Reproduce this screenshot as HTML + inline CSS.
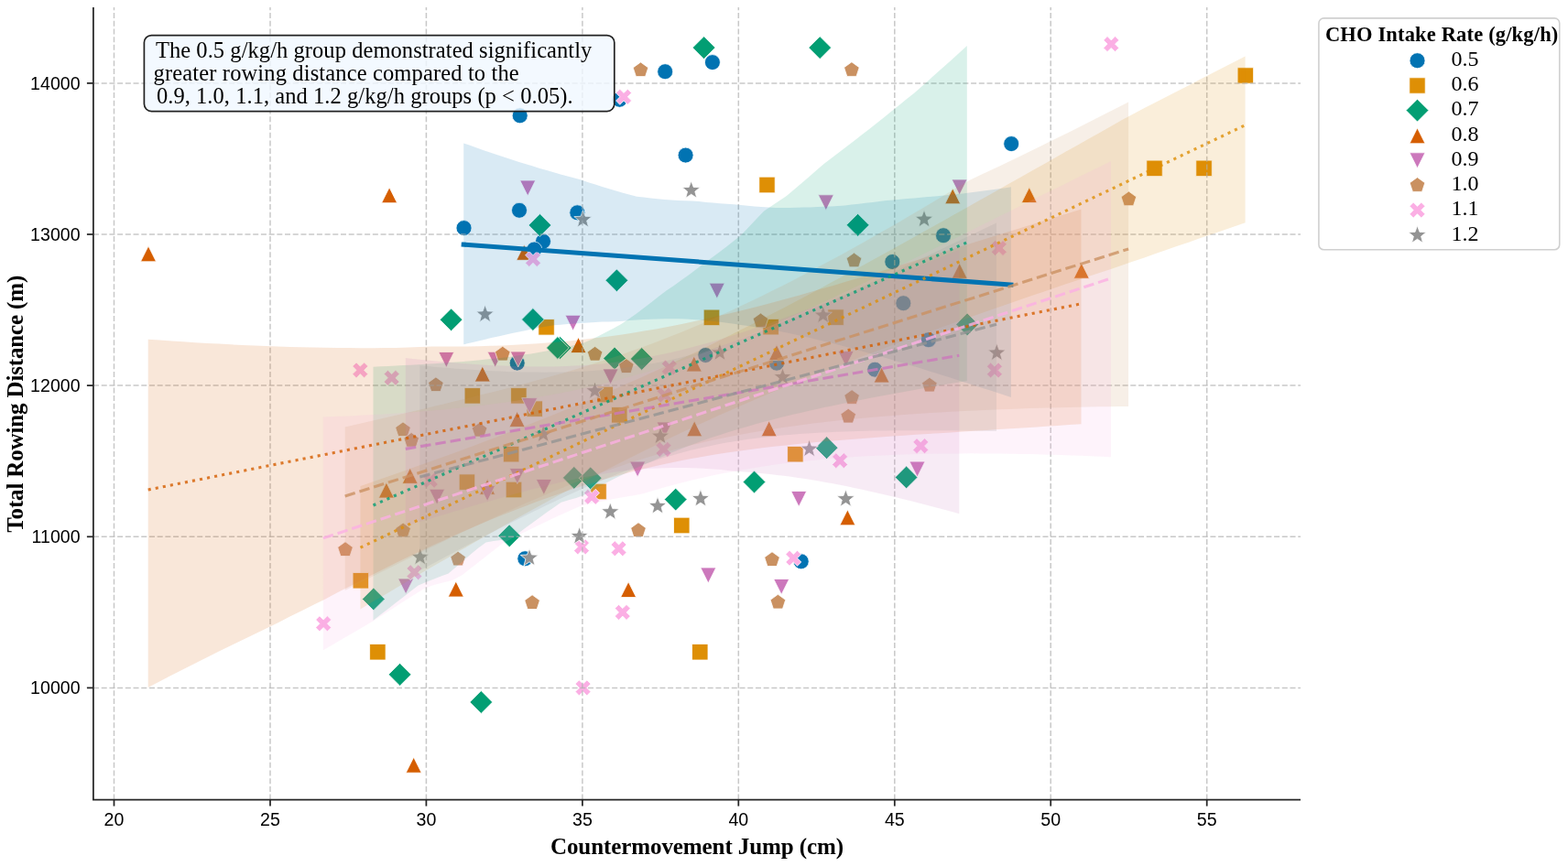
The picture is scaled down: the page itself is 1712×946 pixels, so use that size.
<!DOCTYPE html>
<html><head><meta charset="utf-8"><title>CHO Intake Rate vs Rowing Distance</title>
<style>html,body{margin:0;padding:0;background:#fff;} svg{display:block;}</style></head>
<body>
<svg width="1712" height="946" viewBox="0 0 1712 946">
<rect width="1712" height="946" fill="#fff"/>
<defs><clipPath id="ax"><rect x="102" y="8" width="1318" height="866"/></clipPath></defs>
<g clip-path="url(#ax)">
<circle cx="567.7" cy="126.3" r="8.5" fill="#0173B2" stroke="#fff" stroke-width="0.8"/>
<circle cx="726.2" cy="78.2" r="8.5" fill="#0173B2" stroke="#fff" stroke-width="0.8"/>
<circle cx="777.9" cy="68.1" r="8.5" fill="#0173B2" stroke="#fff" stroke-width="0.8"/>
<circle cx="748.6" cy="169.6" r="8.5" fill="#0173B2" stroke="#fff" stroke-width="0.8"/>
<circle cx="676.5" cy="108.8" r="8.5" fill="#0173B2" stroke="#fff" stroke-width="0.8"/>
<circle cx="1104.2" cy="157.1" r="8.5" fill="#0173B2" stroke="#fff" stroke-width="0.8"/>
<circle cx="506.5" cy="249.1" r="8.5" fill="#0173B2" stroke="#fff" stroke-width="0.8"/>
<circle cx="567" cy="229.8" r="8.5" fill="#0173B2" stroke="#fff" stroke-width="0.8"/>
<circle cx="630.3" cy="232.3" r="8.5" fill="#0173B2" stroke="#fff" stroke-width="0.8"/>
<circle cx="593" cy="263.7" r="8.5" fill="#0173B2" stroke="#fff" stroke-width="0.8"/>
<circle cx="583.3" cy="272.5" r="8.5" fill="#0173B2" stroke="#fff" stroke-width="0.8"/>
<circle cx="1030" cy="257.2" r="8.5" fill="#0173B2" stroke="#fff" stroke-width="0.8"/>
<circle cx="974.3" cy="286" r="8.5" fill="#0173B2" stroke="#fff" stroke-width="0.8"/>
<circle cx="986.3" cy="331.2" r="8.5" fill="#0173B2" stroke="#fff" stroke-width="0.8"/>
<circle cx="1013.8" cy="371.2" r="8.5" fill="#0173B2" stroke="#fff" stroke-width="0.8"/>
<circle cx="955.2" cy="403.7" r="8.5" fill="#0173B2" stroke="#fff" stroke-width="0.8"/>
<circle cx="770.3" cy="388" r="8.5" fill="#0173B2" stroke="#fff" stroke-width="0.8"/>
<circle cx="848" cy="396.7" r="8.5" fill="#0173B2" stroke="#fff" stroke-width="0.8"/>
<circle cx="564.7" cy="396.6" r="8.5" fill="#0173B2" stroke="#fff" stroke-width="0.8"/>
<circle cx="573.3" cy="610.2" r="8.5" fill="#0173B2" stroke="#fff" stroke-width="0.8"/>
<circle cx="874.7" cy="613.3" r="8.5" fill="#0173B2" stroke="#fff" stroke-width="0.8"/>
<polygon points="828.8,210.8 846.2,210.8 846.2,193.2 828.8,193.2" fill="#DE8F05" stroke="#fff" stroke-width="0.8" stroke-linejoin="miter"/>
<polygon points="1351.1,91.2 1368.6,91.2 1368.6,73.8 1351.1,73.8" fill="#DE8F05" stroke="#fff" stroke-width="0.8" stroke-linejoin="miter"/>
<polygon points="1251.8,192.6 1269.2,192.6 1269.2,175.1 1251.8,175.1" fill="#DE8F05" stroke="#fff" stroke-width="0.8" stroke-linejoin="miter"/>
<polygon points="1305.8,192.6 1323.3,192.6 1323.3,175.1 1305.8,175.1" fill="#DE8F05" stroke="#fff" stroke-width="0.8" stroke-linejoin="miter"/>
<polygon points="587.8,366.1 605.3,366.1 605.3,348.6 587.8,348.6" fill="#DE8F05" stroke="#fff" stroke-width="0.8" stroke-linejoin="miter"/>
<polygon points="768.2,355.6 785.8,355.6 785.8,338.1 768.2,338.1" fill="#DE8F05" stroke="#fff" stroke-width="0.8" stroke-linejoin="miter"/>
<polygon points="832.9,365.9 850.4,365.9 850.4,348.4 832.9,348.4" fill="#DE8F05" stroke="#fff" stroke-width="0.8" stroke-linejoin="miter"/>
<polygon points="903.8,355.4 921.3,355.4 921.3,337.9 903.8,337.9" fill="#DE8F05" stroke="#fff" stroke-width="0.8" stroke-linejoin="miter"/>
<polygon points="507.1,441.1 524.6,441.1 524.6,423.6 507.1,423.6" fill="#DE8F05" stroke="#fff" stroke-width="0.8" stroke-linejoin="miter"/>
<polygon points="557.6,441.1 575.1,441.1 575.1,423.6 557.6,423.6" fill="#DE8F05" stroke="#fff" stroke-width="0.8" stroke-linejoin="miter"/>
<polygon points="575,455.4 592.5,455.4 592.5,437.9 575,437.9" fill="#DE8F05" stroke="#fff" stroke-width="0.8" stroke-linejoin="miter"/>
<polygon points="652,439.8 669.5,439.8 669.5,422.2 652,422.2" fill="#DE8F05" stroke="#fff" stroke-width="0.8" stroke-linejoin="miter"/>
<polygon points="667.5,462.1 685,462.1 685,444.6 667.5,444.6" fill="#DE8F05" stroke="#fff" stroke-width="0.8" stroke-linejoin="miter"/>
<polygon points="549.4,504.9 566.9,504.9 566.9,487.4 549.4,487.4" fill="#DE8F05" stroke="#fff" stroke-width="0.8" stroke-linejoin="miter"/>
<polygon points="501.2,535.4 518.7,535.4 518.7,517.9 501.2,517.9" fill="#DE8F05" stroke="#fff" stroke-width="0.8" stroke-linejoin="miter"/>
<polygon points="552.2,543.8 569.8,543.8 569.8,526.2 552.2,526.2" fill="#DE8F05" stroke="#fff" stroke-width="0.8" stroke-linejoin="miter"/>
<polygon points="644.8,545.8 662.3,545.8 662.3,528.2 644.8,528.2" fill="#DE8F05" stroke="#fff" stroke-width="0.8" stroke-linejoin="miter"/>
<polygon points="859.6,504.9 877.1,504.9 877.1,487.4 859.6,487.4" fill="#DE8F05" stroke="#fff" stroke-width="0.8" stroke-linejoin="miter"/>
<polygon points="735.5,582.8 753,582.8 753,565.2 735.5,565.2" fill="#DE8F05" stroke="#fff" stroke-width="0.8" stroke-linejoin="miter"/>
<polygon points="385.1,643 402.6,643 402.6,625.5 385.1,625.5" fill="#DE8F05" stroke="#fff" stroke-width="0.8" stroke-linejoin="miter"/>
<polygon points="403.6,721 421.1,721 421.1,703.5 403.6,703.5" fill="#DE8F05" stroke="#fff" stroke-width="0.8" stroke-linejoin="miter"/>
<polygon points="755.5,721 773,721 773,703.5 755.5,703.5" fill="#DE8F05" stroke="#fff" stroke-width="0.8" stroke-linejoin="miter"/>
<polygon points="768.6,64.5 781,52.1 768.6,39.7 756.2,52.1" fill="#029E73" stroke="#fff" stroke-width="0.8" stroke-linejoin="miter"/>
<polygon points="895.2,64.5 907.6,52.1 895.2,39.7 882.8,52.1" fill="#029E73" stroke="#fff" stroke-width="0.8" stroke-linejoin="miter"/>
<polygon points="589.5,258.4 601.9,246 589.5,233.6 577.1,246" fill="#029E73" stroke="#fff" stroke-width="0.8" stroke-linejoin="miter"/>
<polygon points="673.4,318.7 685.8,306.3 673.4,293.9 661,306.3" fill="#029E73" stroke="#fff" stroke-width="0.8" stroke-linejoin="miter"/>
<polygon points="936.6,258.2 949,245.8 936.6,233.4 924.2,245.8" fill="#029E73" stroke="#fff" stroke-width="0.8" stroke-linejoin="miter"/>
<polygon points="492.6,361.7 505,349.3 492.6,336.9 480.2,349.3" fill="#029E73" stroke="#fff" stroke-width="0.8" stroke-linejoin="miter"/>
<polygon points="581.9,361.4 594.3,349 581.9,336.6 569.5,349" fill="#029E73" stroke="#fff" stroke-width="0.8" stroke-linejoin="miter"/>
<polygon points="611.6,392.4 624,380 611.6,367.6 599.2,380" fill="#029E73" stroke="#fff" stroke-width="0.8" stroke-linejoin="miter"/>
<polygon points="608.9,392.4 621.3,380 608.9,367.6 596.5,380" fill="#029E73" stroke="#fff" stroke-width="0.8" stroke-linejoin="miter"/>
<polygon points="671.1,403.9 683.5,391.5 671.1,379.1 658.7,391.5" fill="#029E73" stroke="#fff" stroke-width="0.8" stroke-linejoin="miter"/>
<polygon points="700.7,404.4 713.1,392 700.7,379.6 688.3,392" fill="#029E73" stroke="#fff" stroke-width="0.8" stroke-linejoin="miter"/>
<polygon points="1056.1,366.8 1068.5,354.4 1056.1,342 1043.7,354.4" fill="#029E73" stroke="#fff" stroke-width="0.8" stroke-linejoin="miter"/>
<polygon points="626.8,534.3 639.2,521.9 626.8,509.5 614.4,521.9" fill="#029E73" stroke="#fff" stroke-width="0.8" stroke-linejoin="miter"/>
<polygon points="644.7,534.7 657.1,522.3 644.7,509.9 632.3,522.3" fill="#029E73" stroke="#fff" stroke-width="0.8" stroke-linejoin="miter"/>
<polygon points="737.7,558 750.1,545.6 737.7,533.2 725.3,545.6" fill="#029E73" stroke="#fff" stroke-width="0.8" stroke-linejoin="miter"/>
<polygon points="556.2,597.7 568.6,585.3 556.2,572.9 543.8,585.3" fill="#029E73" stroke="#fff" stroke-width="0.8" stroke-linejoin="miter"/>
<polygon points="902.6,501.6 915,489.2 902.6,476.8 890.2,489.2" fill="#029E73" stroke="#fff" stroke-width="0.8" stroke-linejoin="miter"/>
<polygon points="989.6,533.8 1002,521.4 989.6,509 977.2,521.4" fill="#029E73" stroke="#fff" stroke-width="0.8" stroke-linejoin="miter"/>
<polygon points="823.5,538.9 835.9,526.5 823.5,514.1 811.1,526.5" fill="#029E73" stroke="#fff" stroke-width="0.8" stroke-linejoin="miter"/>
<polygon points="407.8,666.8 420.2,654.4 407.8,642 395.4,654.4" fill="#029E73" stroke="#fff" stroke-width="0.8" stroke-linejoin="miter"/>
<polygon points="436.6,749.2 449,736.8 436.6,724.4 424.2,736.8" fill="#029E73" stroke="#fff" stroke-width="0.8" stroke-linejoin="miter"/>
<polygon points="525.3,779.4 537.7,767 525.3,754.6 512.9,767" fill="#029E73" stroke="#fff" stroke-width="0.8" stroke-linejoin="miter"/>
<polygon points="425.1,204.7 416.6,221.7 433.6,221.7" fill="#D55E00" stroke="#fff" stroke-width="0.8" stroke-linejoin="miter"/>
<polygon points="162,268.8 153.5,285.8 170.5,285.8" fill="#D55E00" stroke="#fff" stroke-width="0.8" stroke-linejoin="miter"/>
<polygon points="1123.8,204.6 1115.3,221.6 1132.3,221.6" fill="#D55E00" stroke="#fff" stroke-width="0.8" stroke-linejoin="miter"/>
<polygon points="1040.2,205.8 1031.7,222.8 1048.7,222.8" fill="#D55E00" stroke="#fff" stroke-width="0.8" stroke-linejoin="miter"/>
<polygon points="572.3,267.3 563.8,284.3 580.8,284.3" fill="#D55E00" stroke="#fff" stroke-width="0.8" stroke-linejoin="miter"/>
<polygon points="631.5,368.5 623,385.5 640,385.5" fill="#D55E00" stroke="#fff" stroke-width="0.8" stroke-linejoin="miter"/>
<polygon points="526.8,400 518.3,417 535.3,417" fill="#D55E00" stroke="#fff" stroke-width="0.8" stroke-linejoin="miter"/>
<polygon points="564.6,449.4 556.1,466.4 573.1,466.4" fill="#D55E00" stroke="#fff" stroke-width="0.8" stroke-linejoin="miter"/>
<polygon points="757.8,389 749.3,406 766.3,406" fill="#D55E00" stroke="#fff" stroke-width="0.8" stroke-linejoin="miter"/>
<polygon points="758.2,459.8 749.7,476.8 766.7,476.8" fill="#D55E00" stroke="#fff" stroke-width="0.8" stroke-linejoin="miter"/>
<polygon points="839.7,459.7 831.2,476.7 848.2,476.7" fill="#D55E00" stroke="#fff" stroke-width="0.8" stroke-linejoin="miter"/>
<polygon points="848,376.6 839.5,393.6 856.5,393.6" fill="#D55E00" stroke="#fff" stroke-width="0.8" stroke-linejoin="miter"/>
<polygon points="962.6,401 954.1,418 971.1,418" fill="#D55E00" stroke="#fff" stroke-width="0.8" stroke-linejoin="miter"/>
<polygon points="1047.7,287.3 1039.2,304.3 1056.2,304.3" fill="#D55E00" stroke="#fff" stroke-width="0.8" stroke-linejoin="miter"/>
<polygon points="1180.8,287.2 1172.3,304.2 1189.3,304.2" fill="#D55E00" stroke="#fff" stroke-width="0.8" stroke-linejoin="miter"/>
<polygon points="421.9,527 413.4,544 430.4,544" fill="#D55E00" stroke="#fff" stroke-width="0.8" stroke-linejoin="miter"/>
<polygon points="447.7,511.3 439.2,528.3 456.2,528.3" fill="#D55E00" stroke="#fff" stroke-width="0.8" stroke-linejoin="miter"/>
<polygon points="532.1,523.3 523.6,540.3 540.6,540.3" fill="#D55E00" stroke="#fff" stroke-width="0.8" stroke-linejoin="miter"/>
<polygon points="925.4,556.8 916.9,573.8 933.9,573.8" fill="#D55E00" stroke="#fff" stroke-width="0.8" stroke-linejoin="miter"/>
<polygon points="497.8,635 489.3,652 506.3,652" fill="#D55E00" stroke="#fff" stroke-width="0.8" stroke-linejoin="miter"/>
<polygon points="686.1,635.5 677.6,652.5 694.6,652.5" fill="#D55E00" stroke="#fff" stroke-width="0.8" stroke-linejoin="miter"/>
<polygon points="451.7,827.2 443.2,844.2 460.2,844.2" fill="#D55E00" stroke="#fff" stroke-width="0.8" stroke-linejoin="miter"/>
<polygon points="576.2,214 584.7,197 567.7,197" fill="#CC78BC" stroke="#fff" stroke-width="0.8" stroke-linejoin="miter"/>
<polygon points="901.8,229.8 910.3,212.8 893.3,212.8" fill="#CC78BC" stroke="#fff" stroke-width="0.8" stroke-linejoin="miter"/>
<polygon points="1047.6,213 1056.1,196 1039.1,196" fill="#CC78BC" stroke="#fff" stroke-width="0.8" stroke-linejoin="miter"/>
<polygon points="782.8,326.2 791.3,309.2 774.3,309.2" fill="#CC78BC" stroke="#fff" stroke-width="0.8" stroke-linejoin="miter"/>
<polygon points="625.6,361.3 634.1,344.3 617.1,344.3" fill="#CC78BC" stroke="#fff" stroke-width="0.8" stroke-linejoin="miter"/>
<polygon points="487.3,401.5 495.8,384.5 478.8,384.5" fill="#CC78BC" stroke="#fff" stroke-width="0.8" stroke-linejoin="miter"/>
<polygon points="540.7,401.3 549.2,384.3 532.2,384.3" fill="#CC78BC" stroke="#fff" stroke-width="0.8" stroke-linejoin="miter"/>
<polygon points="565.7,401 574.2,384 557.2,384" fill="#CC78BC" stroke="#fff" stroke-width="0.8" stroke-linejoin="miter"/>
<polygon points="666.6,420 675.1,403 658.1,403" fill="#CC78BC" stroke="#fff" stroke-width="0.8" stroke-linejoin="miter"/>
<polygon points="923.6,400.6 932.1,383.6 915.1,383.6" fill="#CC78BC" stroke="#fff" stroke-width="0.8" stroke-linejoin="miter"/>
<polygon points="578.2,451.7 586.7,434.7 569.7,434.7" fill="#CC78BC" stroke="#fff" stroke-width="0.8" stroke-linejoin="miter"/>
<polygon points="564.8,528.5 573.3,511.5 556.3,511.5" fill="#CC78BC" stroke="#fff" stroke-width="0.8" stroke-linejoin="miter"/>
<polygon points="593.8,540.5 602.3,523.5 585.3,523.5" fill="#CC78BC" stroke="#fff" stroke-width="0.8" stroke-linejoin="miter"/>
<polygon points="477.1,551.3 485.6,534.3 468.6,534.3" fill="#CC78BC" stroke="#fff" stroke-width="0.8" stroke-linejoin="miter"/>
<polygon points="532.1,547.5 540.6,530.5 523.6,530.5" fill="#CC78BC" stroke="#fff" stroke-width="0.8" stroke-linejoin="miter"/>
<polygon points="696.1,521.1 704.6,504.1 687.6,504.1" fill="#CC78BC" stroke="#fff" stroke-width="0.8" stroke-linejoin="miter"/>
<polygon points="725.6,478 734.1,461 717.1,461" fill="#CC78BC" stroke="#fff" stroke-width="0.8" stroke-linejoin="miter"/>
<polygon points="1001.5,521.1 1010,504.1 993,504.1" fill="#CC78BC" stroke="#fff" stroke-width="0.8" stroke-linejoin="miter"/>
<polygon points="872.2,553.5 880.7,536.5 863.7,536.5" fill="#CC78BC" stroke="#fff" stroke-width="0.8" stroke-linejoin="miter"/>
<polygon points="773.3,637 781.8,620 764.8,620" fill="#CC78BC" stroke="#fff" stroke-width="0.8" stroke-linejoin="miter"/>
<polygon points="853.2,649.5 861.7,632.5 844.7,632.5" fill="#CC78BC" stroke="#fff" stroke-width="0.8" stroke-linejoin="miter"/>
<polygon points="443.1,649 451.6,632 434.6,632" fill="#CC78BC" stroke="#fff" stroke-width="0.8" stroke-linejoin="miter"/>
<polygon points="699.5,67.9 691.2,73.9 694.4,83.6 704.6,83.6 707.8,73.9" fill="#CA9161" stroke="#fff" stroke-width="0.8" stroke-linejoin="miter"/>
<polygon points="929.9,67.7 921.6,73.7 924.8,83.4 935,83.4 938.2,73.7" fill="#CA9161" stroke="#fff" stroke-width="0.8" stroke-linejoin="miter"/>
<polygon points="1232.4,209 1224.1,215 1227.3,224.7 1237.5,224.7 1240.7,215" fill="#CA9161" stroke="#fff" stroke-width="0.8" stroke-linejoin="miter"/>
<polygon points="932.5,276.1 924.2,282.1 927.4,291.8 937.6,291.8 940.8,282.1" fill="#CA9161" stroke="#fff" stroke-width="0.8" stroke-linejoin="miter"/>
<polygon points="548.8,378.3 540.5,384.3 543.7,394 553.9,394 557.1,384.3" fill="#CA9161" stroke="#fff" stroke-width="0.8" stroke-linejoin="miter"/>
<polygon points="649.6,378.4 641.3,384.4 644.5,394.1 654.7,394.1 657.9,384.4" fill="#CA9161" stroke="#fff" stroke-width="0.8" stroke-linejoin="miter"/>
<polygon points="683.8,391.8 675.5,397.8 678.7,407.5 688.9,407.5 692.1,397.8" fill="#CA9161" stroke="#fff" stroke-width="0.8" stroke-linejoin="miter"/>
<polygon points="830.5,342 822.2,348 825.4,357.7 835.6,357.7 838.8,348" fill="#CA9161" stroke="#fff" stroke-width="0.8" stroke-linejoin="miter"/>
<polygon points="475.9,411.9 467.6,417.9 470.8,427.6 481,427.6 484.2,417.9" fill="#CA9161" stroke="#fff" stroke-width="0.8" stroke-linejoin="miter"/>
<polygon points="1014.9,412.3 1006.6,418.3 1009.8,428 1020,428 1023.2,418.3" fill="#CA9161" stroke="#fff" stroke-width="0.8" stroke-linejoin="miter"/>
<polygon points="930.1,425.7 921.8,431.7 925,441.4 935.2,441.4 938.4,431.7" fill="#CA9161" stroke="#fff" stroke-width="0.8" stroke-linejoin="miter"/>
<polygon points="926.2,446.3 917.9,452.3 921.1,462 931.3,462 934.5,452.3" fill="#CA9161" stroke="#fff" stroke-width="0.8" stroke-linejoin="miter"/>
<polygon points="440,460.9 431.7,466.9 434.9,476.6 445.1,476.6 448.3,466.9" fill="#CA9161" stroke="#fff" stroke-width="0.8" stroke-linejoin="miter"/>
<polygon points="449.2,472.5 440.9,478.5 444.1,488.2 454.3,488.2 457.5,478.5" fill="#CA9161" stroke="#fff" stroke-width="0.8" stroke-linejoin="miter"/>
<polygon points="523.6,461.4 515.3,467.4 518.5,477.1 528.7,477.1 531.9,467.4" fill="#CA9161" stroke="#fff" stroke-width="0.8" stroke-linejoin="miter"/>
<polygon points="377,591.8 368.7,597.8 371.9,607.5 382.1,607.5 385.3,597.8" fill="#CA9161" stroke="#fff" stroke-width="0.8" stroke-linejoin="miter"/>
<polygon points="440.1,571.1 431.8,577.1 435,586.8 445.2,586.8 448.4,577.1" fill="#CA9161" stroke="#fff" stroke-width="0.8" stroke-linejoin="miter"/>
<polygon points="697,570.8 688.7,576.8 691.9,586.5 702.1,586.5 705.3,576.8" fill="#CA9161" stroke="#fff" stroke-width="0.8" stroke-linejoin="miter"/>
<polygon points="500.1,602.2 491.8,608.2 495,617.9 505.2,617.9 508.4,608.2" fill="#CA9161" stroke="#fff" stroke-width="0.8" stroke-linejoin="miter"/>
<polygon points="581.1,649.8 572.8,655.8 576,665.5 586.2,665.5 589.4,655.8" fill="#CA9161" stroke="#fff" stroke-width="0.8" stroke-linejoin="miter"/>
<polygon points="843,602.8 834.7,608.8 837.9,618.5 848.1,618.5 851.3,608.8" fill="#CA9161" stroke="#fff" stroke-width="0.8" stroke-linejoin="miter"/>
<polygon points="849.4,649.3 841.1,655.3 844.3,665 854.5,665 857.7,655.3" fill="#CA9161" stroke="#fff" stroke-width="0.8" stroke-linejoin="miter"/>
<polygon points="676.8,114.3 681.1,110 685.3,114.3 689.6,110 685.3,105.8 689.6,101.5 685.3,97.3 681.1,101.5 676.8,97.3 672.6,101.5 676.8,105.8 672.6,110" fill="#FBAFE4" stroke="#fff" stroke-width="0.8" stroke-linejoin="miter"/>
<polygon points="1209,56.6 1213.3,52.4 1217.5,56.6 1221.8,52.4 1217.5,48.1 1221.8,43.9 1217.5,39.6 1213.3,43.9 1209,39.6 1204.8,43.9 1209,48.1 1204.8,52.4" fill="#FBAFE4" stroke="#fff" stroke-width="0.8" stroke-linejoin="miter"/>
<polygon points="577.8,291.5 582,287.2 586.2,291.5 590.5,287.2 586.2,283 590.5,278.8 586.2,274.5 582,278.8 577.8,274.5 573.5,278.8 577.8,283 573.5,287.2" fill="#FBAFE4" stroke="#fff" stroke-width="0.8" stroke-linejoin="miter"/>
<polygon points="1086.5,279.5 1090.8,275.2 1095,279.5 1099.3,275.2 1095,271 1099.3,266.8 1095,262.5 1090.8,266.8 1086.5,262.5 1082.3,266.8 1086.5,271 1082.3,275.2" fill="#FBAFE4" stroke="#fff" stroke-width="0.8" stroke-linejoin="miter"/>
<polygon points="389.1,412.9 393.3,408.6 397.6,412.9 401.8,408.6 397.6,404.4 401.8,400.1 397.6,395.9 393.3,400.1 389.1,395.9 384.8,400.1 389.1,404.4 384.8,408.6" fill="#FBAFE4" stroke="#fff" stroke-width="0.8" stroke-linejoin="miter"/>
<polygon points="423.4,421.3 427.7,417.1 431.9,421.3 436.2,417.1 431.9,412.8 436.2,408.6 431.9,404.3 427.7,408.6 423.4,404.3 419.2,408.6 423.4,412.8 419.2,417.1" fill="#FBAFE4" stroke="#fff" stroke-width="0.8" stroke-linejoin="miter"/>
<polygon points="726.5,410.1 730.8,405.9 735,410.1 739.3,405.9 735,401.6 739.3,397.4 735,393.1 730.8,397.4 726.5,393.1 722.3,397.4 726.5,401.6 722.3,405.9" fill="#FBAFE4" stroke="#fff" stroke-width="0.8" stroke-linejoin="miter"/>
<polygon points="721.3,440.1 725.6,435.9 729.8,440.1 734.1,435.9 729.8,431.6 734.1,427.4 729.8,423.1 725.6,427.4 721.3,423.1 717.1,427.4 721.3,431.6 717.1,435.9" fill="#FBAFE4" stroke="#fff" stroke-width="0.8" stroke-linejoin="miter"/>
<polygon points="1081.6,413 1085.9,408.8 1090.1,413 1094.4,408.8 1090.1,404.5 1094.4,400.2 1090.1,396 1085.9,400.2 1081.6,396 1077.4,400.2 1081.6,404.5 1077.4,408.8" fill="#FBAFE4" stroke="#fff" stroke-width="0.8" stroke-linejoin="miter"/>
<polygon points="720.2,499.4 724.5,495.1 728.8,499.4 733,495.1 728.8,490.9 733,486.6 728.8,482.4 724.5,486.6 720.2,482.4 716,486.6 720.2,490.9 716,495.1" fill="#FBAFE4" stroke="#fff" stroke-width="0.8" stroke-linejoin="miter"/>
<polygon points="465.6,533.2 469.8,529 474.1,533.2 478.3,529 474.1,524.7 478.3,520.5 474.1,516.2 469.8,520.5 465.6,516.2 461.3,520.5 465.6,524.7 461.3,529" fill="#FBAFE4" stroke="#fff" stroke-width="0.8" stroke-linejoin="miter"/>
<polygon points="641.8,551.3 646.1,547 650.3,551.3 654.6,547 650.3,542.8 654.6,538.5 650.3,534.3 646.1,538.5 641.8,534.3 637.6,538.5 641.8,542.8 637.6,547" fill="#FBAFE4" stroke="#fff" stroke-width="0.8" stroke-linejoin="miter"/>
<polygon points="912.8,511.7 917.1,507.4 921.3,511.7 925.6,507.4 921.3,503.2 925.6,498.9 921.3,494.7 917.1,498.9 912.8,494.7 908.6,498.9 912.8,503.2 908.6,507.4" fill="#FBAFE4" stroke="#fff" stroke-width="0.8" stroke-linejoin="miter"/>
<polygon points="1001,495.7 1005.3,491.4 1009.5,495.7 1013.8,491.4 1009.5,487.2 1013.8,482.9 1009.5,478.7 1005.3,482.9 1001,478.7 996.8,482.9 1001,487.2 996.8,491.4" fill="#FBAFE4" stroke="#fff" stroke-width="0.8" stroke-linejoin="miter"/>
<polygon points="630.8,605.9 635,601.6 639.2,605.9 643.5,601.6 639.2,597.4 643.5,593.1 639.2,588.9 635,593.1 630.8,588.9 626.5,593.1 630.8,597.4 626.5,601.6" fill="#FBAFE4" stroke="#fff" stroke-width="0.8" stroke-linejoin="miter"/>
<polygon points="671.3,607.8 675.6,603.5 679.8,607.8 684.1,603.5 679.8,599.3 684.1,595 679.8,590.8 675.6,595 671.3,590.8 667.1,595 671.3,599.3 667.1,603.5" fill="#FBAFE4" stroke="#fff" stroke-width="0.8" stroke-linejoin="miter"/>
<polygon points="448.2,633.7 452.4,629.5 456.7,633.7 460.9,629.5 456.7,625.2 460.9,621 456.7,616.7 452.4,621 448.2,616.7 443.9,621 448.2,625.2 443.9,629.5" fill="#FBAFE4" stroke="#fff" stroke-width="0.8" stroke-linejoin="miter"/>
<polygon points="862,618.2 866.3,614 870.5,618.2 874.8,614 870.5,609.7 874.8,605.5 870.5,601.2 866.3,605.5 862,601.2 857.8,605.5 862,609.7 857.8,614" fill="#FBAFE4" stroke="#fff" stroke-width="0.8" stroke-linejoin="miter"/>
<polygon points="348.9,689.8 353.2,685.5 357.4,689.8 361.7,685.5 357.4,681.3 361.7,677 357.4,672.8 353.2,677 348.9,672.8 344.7,677 348.9,681.3 344.7,685.5" fill="#FBAFE4" stroke="#fff" stroke-width="0.8" stroke-linejoin="miter"/>
<polygon points="675.5,677.4 679.8,673.1 684,677.4 688.3,673.1 684,668.9 688.3,664.6 684,660.4 679.8,664.6 675.5,660.4 671.3,664.6 675.5,668.9 671.3,673.1" fill="#FBAFE4" stroke="#fff" stroke-width="0.8" stroke-linejoin="miter"/>
<polygon points="632.3,759.9 636.6,755.6 640.8,759.9 645.1,755.6 640.8,751.4 645.1,747.1 640.8,742.9 636.6,747.1 632.3,742.9 628.1,747.1 632.3,751.4 628.1,755.6" fill="#FBAFE4" stroke="#fff" stroke-width="0.8" stroke-linejoin="miter"/>
<polygon points="754.7,197.7 752.2,204.4 745,204.7 750.6,209.2 748.7,216.2 754.7,212.2 760.7,216.2 758.8,209.2 764.4,204.7 757.2,204.4" fill="#949494" stroke="#fff" stroke-width="0.8" stroke-linejoin="miter"/>
<polygon points="636.5,229.6 634,236.3 626.8,236.6 632.4,241.1 630.5,248.1 636.5,244.1 642.5,248.1 640.6,241.1 646.2,236.6 639,236.3" fill="#949494" stroke="#fff" stroke-width="0.8" stroke-linejoin="miter"/>
<polygon points="1009,229.3 1006.5,236.1 999.3,236.4 1004.9,240.9 1003,247.9 1009,243.9 1015,247.9 1013.1,240.9 1018.7,236.4 1011.5,236.1" fill="#949494" stroke="#fff" stroke-width="0.8" stroke-linejoin="miter"/>
<polygon points="529.6,333.1 527.1,339.9 519.9,340.2 525.5,344.7 523.6,351.7 529.6,347.7 535.6,351.7 533.7,344.7 539.3,340.2 532.1,339.9" fill="#949494" stroke="#fff" stroke-width="0.8" stroke-linejoin="miter"/>
<polygon points="898.7,334.1 896.2,340.9 889,341.2 894.6,345.7 892.7,352.7 898.7,348.7 904.7,352.7 902.8,345.7 908.4,341.2 901.2,340.9" fill="#949494" stroke="#fff" stroke-width="0.8" stroke-linejoin="miter"/>
<polygon points="785.9,375.1 783.4,381.8 776.2,382.1 781.8,386.6 779.9,393.6 785.9,389.6 791.9,393.6 790,386.6 795.6,382.1 788.4,381.8" fill="#949494" stroke="#fff" stroke-width="0.8" stroke-linejoin="miter"/>
<polygon points="649.5,416.9 647,423.6 639.8,423.9 645.4,428.4 643.5,435.4 649.5,431.4 655.5,435.4 653.6,428.4 659.2,423.9 652,423.6" fill="#949494" stroke="#fff" stroke-width="0.8" stroke-linejoin="miter"/>
<polygon points="854.5,401.6 852,408.4 844.8,408.7 850.4,413.2 848.5,420.2 854.5,416.2 860.5,420.2 858.6,413.2 864.2,408.7 857,408.4" fill="#949494" stroke="#fff" stroke-width="0.8" stroke-linejoin="miter"/>
<polygon points="1088.3,375.1 1085.8,381.9 1078.6,382.2 1084.2,386.7 1082.3,393.7 1088.3,389.7 1094.3,393.7 1092.4,386.7 1098,382.2 1090.8,381.9" fill="#949494" stroke="#fff" stroke-width="0.8" stroke-linejoin="miter"/>
<polygon points="593.2,464.1 590.7,470.9 583.5,471.2 589.1,475.7 587.2,482.7 593.2,478.7 599.2,482.7 597.3,475.7 602.9,471.2 595.7,470.9" fill="#949494" stroke="#fff" stroke-width="0.8" stroke-linejoin="miter"/>
<polygon points="721,466.2 718.5,473 711.3,473.3 716.9,477.8 715,484.8 721,480.8 727,484.8 725.1,477.8 730.7,473.3 723.5,473" fill="#949494" stroke="#fff" stroke-width="0.8" stroke-linejoin="miter"/>
<polygon points="883.6,480.2 881.1,487 873.9,487.3 879.5,491.8 877.6,498.8 883.6,494.8 889.6,498.8 887.7,491.8 893.3,487.3 886.1,487" fill="#949494" stroke="#fff" stroke-width="0.8" stroke-linejoin="miter"/>
<polygon points="718,542.5 715.5,549.3 708.3,549.6 713.9,554.1 712,561.1 718,557.1 724,561.1 722.1,554.1 727.7,549.6 720.5,549.3" fill="#949494" stroke="#fff" stroke-width="0.8" stroke-linejoin="miter"/>
<polygon points="666.3,548.9 663.8,555.6 656.6,555.9 662.2,560.4 660.3,567.4 666.3,563.4 672.3,567.4 670.4,560.4 676,555.9 668.8,555.6" fill="#949494" stroke="#fff" stroke-width="0.8" stroke-linejoin="miter"/>
<polygon points="764.9,534.5 762.4,541.3 755.2,541.6 760.8,546.1 758.9,553.1 764.9,549.1 770.9,553.1 769,546.1 774.6,541.6 767.4,541.3" fill="#949494" stroke="#fff" stroke-width="0.8" stroke-linejoin="miter"/>
<polygon points="923.4,534.8 920.9,541.5 913.7,541.8 919.3,546.3 917.4,553.3 923.4,549.3 929.4,553.3 927.5,546.3 933.1,541.8 925.9,541.5" fill="#949494" stroke="#fff" stroke-width="0.8" stroke-linejoin="miter"/>
<polygon points="632.6,575.5 630.1,582.3 622.9,582.6 628.5,587.1 626.6,594.1 632.6,590.1 638.6,594.1 636.7,587.1 642.3,582.6 635.1,582.3" fill="#949494" stroke="#fff" stroke-width="0.8" stroke-linejoin="miter"/>
<polygon points="458.7,598.4 456.2,605.1 449,605.4 454.6,609.9 452.7,616.9 458.7,612.9 464.7,616.9 462.8,609.9 468.4,605.4 461.2,605.1" fill="#949494" stroke="#fff" stroke-width="0.8" stroke-linejoin="miter"/>
<polygon points="578,599.2 575.5,606 568.3,606.3 573.9,610.8 572,617.8 578,613.8 584,617.8 582.1,610.8 587.7,606.3 580.5,606" fill="#949494" stroke="#fff" stroke-width="0.8" stroke-linejoin="miter"/>
</g>
<g stroke="#b0b0b0" stroke-opacity="0.7" stroke-width="1.5" stroke-dasharray="6.0 2.71">
<line x1="124.5" y1="873.6" x2="124.5" y2="8"/>
<line x1="295" y1="873.6" x2="295" y2="8"/>
<line x1="465.4" y1="873.6" x2="465.4" y2="8"/>
<line x1="635.9" y1="873.6" x2="635.9" y2="8"/>
<line x1="806.3" y1="873.6" x2="806.3" y2="8"/>
<line x1="976.8" y1="873.6" x2="976.8" y2="8"/>
<line x1="1147.2" y1="873.6" x2="1147.2" y2="8"/>
<line x1="1317.7" y1="873.6" x2="1317.7" y2="8"/>
<line x1="102" y1="751.4" x2="1420" y2="751.4"/>
<line x1="102" y1="586.3" x2="1420" y2="586.3"/>
<line x1="102" y1="421.1" x2="1420" y2="421.1"/>
<line x1="102" y1="256" x2="1420" y2="256"/>
<line x1="102" y1="90.9" x2="1420" y2="90.9"/>
</g>
<g clip-path="url(#ax)">
<polygon points="506.2,156.4 513.8,159.1 521.3,161.7 528.9,164.4 536.5,166.9 544,169.5 551.6,172 559.2,174.4 566.7,176.9 574.3,179.2 581.9,181.6 589.4,183.9 597,186.1 604.6,188.3 612.1,190.4 619.7,192.5 627.3,194.5 634.8,196.6 642.4,199.2 650,201.6 657.5,204 665.1,206.3 672.6,208.6 680.2,210.7 687.8,212.8 695.3,214.7 702.9,215.6 710.5,216.5 718,217.3 725.6,217.9 733.2,218.5 740.7,219 748.3,219.3 755.9,219.6 763.4,220.1 771,220.9 778.6,221.6 786.1,222.2 793.7,222.7 801.3,223.3 808.8,224.1 816.4,224.8 824,225.5 831.5,226 839.1,226.5 846.7,226.9 854.2,227 861.8,226.9 869.4,226.8 876.9,226.6 884.5,226.4 892.1,226.1 899.6,225.8 907.2,225.4 914.8,225 922.3,224.4 929.9,223.6 937.5,222.7 945,221.8 952.6,220.9 960.1,220 967.7,219.1 975.3,218.4 982.8,217.8 990.4,217.1 998,216.4 1005.5,215.8 1013.1,215.1 1020.7,214.4 1028.2,213.7 1035.8,213 1043.4,212.3 1050.9,211.6 1058.5,210.6 1066.1,209.6 1073.6,208.5 1081.2,207.5 1088.8,206.4 1096.3,205.4 1103.9,204.3 1103.9,434 1096.3,431.5 1088.8,429.1 1081.2,426.6 1073.6,424.2 1066.1,421.7 1058.5,419.3 1050.9,416.9 1043.4,414.5 1035.8,412.1 1028.2,409.7 1020.7,407.3 1013.1,405 1005.5,402.6 998,400.3 990.4,398 982.8,395.7 975.3,393.5 967.7,391.3 960.1,389.1 952.6,386.9 945,384.8 937.5,382.7 929.9,380.6 922.3,378.6 914.8,376.6 907.2,374.6 899.6,372.7 892.1,370.9 884.5,369.1 876.9,367.4 869.4,365.7 861.8,364.1 854.2,362.6 846.7,361.1 839.1,359.7 831.5,358.4 824,357.2 816.4,356 808.8,355 801.3,353.8 793.7,352.8 786.1,351.8 778.6,351 771,350.2 763.4,349.6 755.9,349 748.3,348.6 740.7,348.3 733.2,348.3 725.6,348.3 718,348.5 710.5,348.8 702.9,349.1 695.3,349.6 687.8,350.1 680.2,350.7 672.6,351.2 665.1,351.4 657.5,351.6 650,352 642.4,352.4 634.8,352.9 627.3,353.4 619.7,354 612.1,354.7 604.6,355.3 597,356.4 589.4,357.8 581.9,359.3 574.3,360.9 566.7,362.5 559.2,364.1 551.6,365.7 544,367.4 536.5,369.1 528.9,370.9 521.3,372.7 513.8,374.5 506.2,376.3" fill="#0173B2" fill-opacity="0.15"/>
<polygon points="393.5,531 405.7,526.8 418,522.5 430.2,518.3 442.4,514 454.6,509.6 466.9,505.2 479.1,500.8 491.3,496.4 503.6,491.9 515.8,487.4 528,482.8 540.2,478.2 552.5,473.5 564.7,468.8 576.9,464 589.2,459.1 601.4,454.2 613.6,449.3 625.9,444.3 638.1,439.2 650.3,434 662.5,428.8 674.8,423.5 687,418.1 699.2,412.7 711.5,407.1 723.7,401.5 735.9,395.8 748.1,390.1 760.4,384.2 772.6,378.3 784.8,372.3 797.1,366.2 809.3,360.1 821.5,353.9 833.7,347.6 846,341.3 858.2,334.9 870.4,328.4 882.7,322 894.9,315.4 907.1,308.8 919.4,302.2 931.6,295.6 943.8,288.9 956,282.2 968.3,275.4 980.5,268.7 992.7,261.9 1005,255.1 1017.2,248.2 1029.4,241.4 1041.6,234.5 1053.9,227.7 1066.1,220.8 1078.3,213.9 1090.6,207 1102.8,200.1 1115,193.2 1127.2,186.3 1139.5,179.4 1151.7,172.5 1163.9,165.6 1176.2,158.7 1188.4,151.8 1200.6,144.9 1212.9,138 1225.1,131.1 1237.3,124.5 1249.5,118.1 1261.8,111.8 1274,105.5 1286.2,99.2 1298.5,92.9 1310.7,86.6 1322.9,80.3 1335.1,74 1347.4,67.8 1359.6,61.5 1359.6,243.3 1347.4,247.5 1335.1,251.7 1322.9,255.9 1310.7,260.1 1298.5,264.4 1286.2,268.6 1274,272.8 1261.8,277.1 1249.5,281.4 1237.3,285.6 1225.1,289.8 1212.9,293.9 1200.6,298 1188.4,302.1 1176.2,306.2 1163.9,310.3 1151.7,314.5 1139.5,318.7 1127.2,322.8 1115,327 1102.8,331.3 1090.6,335.5 1078.3,339.8 1066.1,344.1 1053.9,348.4 1041.6,352.7 1029.4,357.1 1017.2,361.4 1005,365.9 992.7,370.3 980.5,374.8 968.3,379.3 956,383.9 943.8,388.5 931.6,393.2 919.4,397.9 907.1,402.6 894.9,407.5 882.7,412.3 870.4,417.3 858.2,422.3 846,427.3 833.7,432.5 821.5,437.7 809.3,443 797.1,448.4 784.8,453.8 772.6,459.4 760.4,465 748.1,470.7 735.9,476.5 723.7,482.4 711.5,488.4 699.2,494.5 687,500.6 674.8,506.8 662.5,513.1 650.3,519.5 638.1,526 625.9,532.5 613.6,539.1 601.4,545.8 589.2,552.5 576.9,559.2 564.7,566.1 552.5,572.9 540.2,579.8 528,586.8 515.8,593.8 503.6,600.8 491.3,607.9 479.1,615 466.9,622.1 454.6,629.3 442.4,636.5 430.2,643.7 418,650.9 405.7,658.1 393.5,665.4" fill="#DE8F05" fill-opacity="0.15"/>
<polygon points="407.5,400.7 415.7,400.3 423.9,399.9 432.1,399.5 440.3,399.1 448.5,398.7 456.7,398.2 464.9,397.8 473.2,397.2 481.4,396.7 489.6,396.1 497.8,395.5 506,394.9 514.2,394.2 522.4,393.4 530.6,392.6 538.8,391.8 547,390.9 555.2,389.9 563.4,388.8 571.6,387.6 579.8,386.4 588,385 596.2,383.6 604.5,382 612.7,380.3 620.9,378.4 629.1,376.5 637.3,374.4 645.5,371 653.7,367 661.9,362.8 670.1,358.4 678.3,353.9 686.5,348.6 694.7,342.7 702.9,336.6 711.1,330.3 719.3,323.8 727.5,317.5 735.8,311.9 744,306.1 752.2,300.2 760.4,294 768.6,287.8 776.8,281.8 785,275.7 793.2,269.4 801.4,263 809.6,256.4 817.8,247.8 826,239.1 834.2,230.4 842.4,225.1 850.6,219.6 858.8,214 867.1,207.1 875.3,200.1 883.5,192.9 891.7,185.7 899.9,178.7 908.1,172.5 916.3,166.3 924.5,160.1 932.7,153.7 940.9,147.3 949.1,140.9 957.3,134.4 965.5,127.9 973.7,121.3 981.9,114.7 990.1,108 998.4,101.4 1006.6,94.2 1014.8,86.9 1023,79.6 1031.2,72.3 1039.4,64.9 1047.6,57.5 1055.8,50 1055.8,416.1 1047.6,417.5 1039.4,418.8 1031.2,420.2 1023,421.6 1014.8,423.1 1006.6,424.5 998.4,426 990.1,427.4 981.9,428.9 973.7,430.4 965.5,432 957.3,433.5 949.1,435.1 940.9,436.7 932.7,438.3 924.5,440 916.3,441.7 908.1,443.4 899.9,445.1 891.7,446.9 883.5,448.8 875.3,450.7 867.1,452.6 858.8,454.6 850.6,456.6 842.4,458.7 834.2,460.8 826,463.1 817.8,465.4 809.6,467.7 801.4,470.2 793.2,472.7 785,475.4 776.8,478.1 768.6,481 760.4,483.9 752.2,487 744,490.2 735.8,493.5 727.5,497 719.3,500.6 711.1,504.3 702.9,507.8 694.7,511.5 686.5,515.2 678.3,519.2 670.1,523.3 661.9,527.5 653.7,531.8 645.5,536.3 637.3,540.9 629.1,544 620.9,546.2 612.7,548.8 604.5,554.5 596.2,560.3 588,566.2 579.8,572.2 571.6,578.3 563.4,584.4 555.2,588.7 547,589.9 538.8,591.1 530.6,592.4 522.4,598.4 514.2,605.3 506,612.4 497.8,619.5 489.6,626.5 481.4,629.6 473.2,632.8 464.9,636 456.7,639.5 448.5,645.8 440.3,652.2 432.1,658.5 423.9,664.9 415.7,671.3 407.5,677.7" fill="#029E73" fill-opacity="0.15"/>
<polygon points="161.7,370.7 174.6,371.6 187.5,372.5 200.4,373.3 213.3,374.2 226.2,374.9 239.1,375.6 252,376.3 264.9,376.9 277.8,377.5 290.7,378 303.6,378.5 316.5,378.9 329.4,379.3 342.2,379.6 355.1,379.8 368,380 380.9,380.1 393.8,380.2 406.7,380.2 419.6,380.1 432.5,379.9 445.4,379.6 458.3,379.1 471.2,378.6 484.1,378.6 497,378.6 509.9,378.4 522.8,378.2 535.7,377.8 548.6,377.4 561.5,376.8 574.4,376.1 587.3,375.3 600.2,374.3 613.1,373.2 626,372 638.9,370.6 651.8,369.1 664.7,367.5 677.5,365.7 690.4,363.7 703.3,361.6 716.2,359.4 729.1,357 742,354.5 754.9,351.8 767.8,349 780.7,346.1 793.6,343.1 806.5,340 819.4,336.7 832.3,333.4 845.2,330 858.1,326.5 871,322.9 883.9,319.3 896.8,315.6 909.7,311.9 922.6,308.1 935.5,304.2 948.4,300.4 961.3,296.5 974.2,292.5 987.1,288.6 1000,284.6 1012.8,280.6 1025.7,276.6 1038.6,272.6 1051.5,268.6 1064.4,264.5 1077.3,260.5 1090.2,256.5 1103.1,252.5 1116,248.4 1128.9,244.4 1141.8,240.4 1154.7,236.4 1167.6,232.4 1180.5,228.4 1180.5,463.2 1167.6,464.1 1154.7,465 1141.8,465.8 1128.9,466.7 1116,467.5 1103.1,468.3 1090.2,469.1 1077.3,469.9 1064.4,470.7 1051.5,471.6 1038.6,472.4 1025.7,473.2 1012.8,474 1000,474.8 987.1,475.7 974.2,476.6 961.3,477.5 948.4,478.4 935.5,479.4 922.6,480.4 909.7,481.5 896.8,482.6 883.9,483.8 871,485 858.1,486.4 845.2,487.8 832.3,489.3 819.4,491 806.5,492.7 793.6,494.6 780.7,496.6 767.8,498.8 754.9,501.1 742,503.6 729.1,506.2 716.2,509.1 703.3,512.1 690.4,515.3 677.5,518.7 664.7,522.2 651.8,526 638.9,529.9 626,534.1 613.1,538.4 600.2,542.9 587.3,547.5 574.4,552.4 561.5,557.4 548.6,562.5 535.7,567.8 522.8,573.3 509.9,578.8 497,584.5 484.1,590.4 471.2,596.3 458.3,602.4 445.4,608.6 432.5,614.8 419.6,621.2 406.7,627.7 393.8,634.2 380.9,640.9 368,647.6 355.1,654.4 342.2,660.8 329.4,667.2 316.5,673.6 303.6,680.2 290.7,686.6 277.8,692.7 264.9,699 252,705.2 239.1,711.6 226.2,718 213.3,724.5 200.4,731 187.5,737.6 174.6,744.2 161.7,750.9" fill="#D55E00" fill-opacity="0.15"/>
<polygon points="442.8,391.1 450.5,391.9 458.1,392.7 465.8,393.5 473.4,394.2 481.1,394.9 488.7,395.6 496.4,396.3 504,396.9 511.7,397.4 519.3,398 527,398.5 534.6,398.9 542.3,399.3 549.9,399.6 557.6,399.9 565.2,400.2 572.9,400.3 580.5,400.4 588.2,400.5 595.8,400.5 603.5,400.4 611.1,400.2 618.8,399.9 626.4,399.6 634.1,399.2 641.7,398.7 649.4,398.1 657.1,397.4 664.7,396.5 672.4,395.6 680,394.6 687.7,393.5 695.3,392.3 703,391 710.6,389.6 718.3,388.1 725.9,386.5 733.6,384.7 741.2,382.9 748.9,381.1 756.5,379.1 764.2,377 771.8,374.9 779.5,372.7 787.1,370.4 794.8,368.1 802.4,365.7 810.1,363.2 817.7,360.7 825.4,358.1 833,355.5 840.7,352.9 848.4,350.2 856,347.5 863.7,344.7 871.3,341.9 879,339.1 886.6,336.3 894.3,333.4 901.9,330.5 909.6,327.6 917.2,324.7 924.9,321.7 932.5,318.7 940.2,315.8 947.8,312.8 955.5,309.8 963.1,306.7 970.8,303.7 978.4,300.7 986.1,297.6 993.7,294.6 1001.4,291.5 1009,288.5 1016.7,285.4 1024.3,282.3 1032,279.2 1039.6,276.2 1047.3,273.1 1047.3,561.3 1039.6,559.1 1032,557 1024.3,554.9 1016.7,552.9 1009,550.9 1001.4,548.9 993.7,547 986.1,545.2 978.4,543.3 970.8,541.5 963.1,539.7 955.5,537.9 947.8,536.2 940.2,534.5 932.5,532.9 924.9,531.3 917.2,529.8 909.6,528.3 901.9,526.9 894.3,525.6 886.6,524.3 879,523.1 871.3,521.9 863.7,520.8 856,519.8 848.4,518.9 840.7,518 833,517.2 825.4,516.5 817.7,515.8 810.1,515.3 802.4,514.7 794.8,513.9 787.1,513.1 779.5,512.5 771.8,512 764.2,511.6 756.5,511.3 748.9,511.1 741.2,511 733.6,511 725.9,511.2 718.3,511.4 710.6,511.8 703,512.3 695.3,513 687.7,513.7 680,514.6 672.4,515.6 664.7,516.7 657.1,517.9 649.4,519.2 641.7,520.6 634.1,522.1 626.4,523.7 618.8,525.3 611.1,527 603.5,528.9 595.8,530.7 588.2,532.7 580.5,534.6 572.9,536.7 565.2,538.7 557.6,540.8 549.9,543 542.3,545.2 534.6,547.4 527,549.6 519.3,551.8 511.7,554.1 504,556.4 496.4,558.6 488.7,560.9 481.1,563.2 473.4,565.5 465.8,567.8 458.1,570.1 450.5,572.4 442.8,574.6" fill="#CC78BC" fill-opacity="0.15"/>
<polygon points="376.7,466.6 387.5,464.1 398.4,461.6 409.2,459 420,456.5 430.8,454 441.7,451.5 452.5,448.9 463.3,446.4 474.2,443.8 485,441.2 495.8,438.6 506.6,436 517.5,433.3 528.3,430.6 539.1,427.9 549.9,425.2 560.8,422.3 571.6,419.5 582.4,416.6 593.3,413.6 604.1,410.6 614.9,407.4 625.7,404.2 636.6,401 647.4,397.6 658.2,394.1 669.1,390.6 679.9,386.9 690.7,383.1 701.5,379.2 712.4,375.2 723.2,371.1 734,366.8 744.8,362.5 755.7,358 766.5,353.4 777.3,348.7 788.2,343.8 799,338.9 809.8,333.8 820.6,328.7 831.5,323.5 842.3,318.1 853.1,312.7 864,307.2 874.8,301.6 885.6,295.9 896.4,290.1 907.3,284.3 918.1,278.4 928.9,272.4 939.7,266.4 950.6,260.3 961.4,254.1 972.2,247.9 983.1,241.7 993.9,235.3 1004.7,229 1015.5,222.5 1026.4,216.1 1037.2,209.6 1048,203 1058.9,196.7 1069.7,191.6 1080.5,186.5 1091.3,181.4 1102.2,176.2 1113,171 1123.8,165.7 1134.6,160.4 1145.5,155.1 1156.3,149.8 1167.1,144.4 1178,139 1188.8,133.6 1199.6,128.1 1210.4,122.6 1221.3,117.1 1232.1,111.5 1232.1,443.9 1221.3,444 1210.4,444.2 1199.6,444.3 1188.8,444.5 1178,444.7 1167.1,445 1156.3,445.2 1145.5,445.5 1134.6,445.8 1123.8,446.1 1113,446.5 1102.2,446.9 1091.3,447.3 1080.5,447.7 1069.7,448.2 1058.9,448.7 1048,449.3 1037.2,449.8 1026.4,450.5 1015.5,451.1 1004.7,451.8 993.9,452.5 983.1,453.3 972.2,454.2 961.4,455 950.6,456 939.7,456.9 928.9,458 918.1,459.1 907.3,460.3 896.4,461.5 885.6,462.8 874.8,464.2 864,465.7 853.1,467.3 842.3,468.9 831.5,470.7 820.6,472.5 809.8,474.5 799,476.6 788.2,478.8 777.3,481.1 766.5,483.6 755.7,486.1 744.8,488.9 734,491.7 723.2,494.7 712.4,497.9 701.5,501.2 690.7,504.6 679.9,508.2 669.1,511.9 658.2,515.8 647.4,519.7 636.6,523.8 625.7,528.1 614.9,532.4 604.1,536.8 593.3,541.4 582.4,546 571.6,550.7 560.8,555.6 549.9,560.4 539.1,565.4 528.3,570.4 517.5,575.5 506.6,580.6 495.8,585.8 485,591 474.2,596.3 463.3,601.6 452.5,606.9 441.7,612.3 430.8,617.7 420,623.1 409.2,628.6 398.4,634 387.5,639.5 376.7,645" fill="#CA9161" fill-opacity="0.15"/>
<polygon points="352.9,455.5 363.8,455.1 374.7,454.7 385.6,454.2 396.4,453.6 407.3,453 418.2,452.4 429.1,451.7 440,451 450.9,450.2 461.8,449.3 472.7,448.4 483.5,447.4 494.4,446.3 505.3,445.2 516.2,444 527.1,442.7 538,441.3 548.9,439.9 559.8,438.3 570.6,436.7 581.5,434.9 592.4,433.1 603.3,431.1 614.2,429 625.1,426.8 636,424.5 646.9,422 657.7,419.4 668.6,416.7 679.5,413.8 690.4,410.8 701.3,407.7 712.2,404.4 723.1,401 734,397.4 744.8,393.8 755.7,389.9 766.6,386 777.5,381.9 788.4,377.7 799.3,373.4 810.2,369 821.1,364.5 831.9,359.9 842.8,355.2 853.7,350.5 864.6,345.6 875.5,340.7 886.4,335.8 897.3,330.7 908.2,325.7 919,320.6 929.9,315.4 940.8,310.2 951.7,305 962.6,299.7 973.5,294.4 984.4,289.1 995.3,283.8 1006.1,278.4 1017,273.1 1027.9,267.7 1038.8,262.3 1049.7,256.9 1060.6,251.5 1071.5,246.1 1082.4,240.7 1093.2,235.3 1104.1,229.9 1115,224.5 1125.9,219.1 1136.8,213.6 1147.7,208.3 1158.6,202.9 1169.5,197.5 1180.3,192.1 1191.2,186.7 1202.1,181.4 1213,176 1213,499.2 1202.1,498.7 1191.2,498.2 1180.3,497.8 1169.5,497.4 1158.6,497 1147.7,496.7 1136.8,496.4 1125.9,496.1 1115,495.9 1104.1,495.7 1093.2,495.5 1082.4,495.4 1071.5,495.4 1060.6,495.3 1049.7,495.4 1038.8,495.4 1027.9,495.6 1017,495.7 1006.1,496 995.3,496.3 984.4,496.6 973.5,497 962.6,497.5 951.7,498 940.8,498.6 929.9,499.3 919,500.1 908.2,500.9 897.3,501.9 886.4,502.9 875.5,504.1 864.6,505.3 853.7,506.6 842.8,508.1 831.9,509.7 821.1,511.4 810.2,513.2 799.3,515.2 788.4,517.3 777.5,519.5 766.6,521.9 755.7,524.5 744.8,527.2 734,530 723.1,533.1 712.2,536.2 701.3,539.6 690.4,541.5 679.5,543.3 668.6,545.3 657.7,547.5 646.9,549.7 636,552.1 625.1,556.5 614.2,561.5 603.3,566.5 592.4,571.7 581.5,576.9 570.6,582.2 559.8,587.7 548.9,593.5 538,601.9 527.1,610.4 516.2,619 505.3,627.7 494.4,633.8 483.5,636.5 472.7,639.3 461.8,643.7 450.9,650.6 440,657.6 429.1,664.6 418.2,671.6 407.3,678.6 396.4,684.9 385.6,691.2 374.7,697.6 363.8,703.9 352.9,710.3" fill="#FBAFE4" fill-opacity="0.15"/>
<polygon points="458.4,399.2 466.4,400 474.3,400.7 482.3,401.4 490.3,402.1 498.2,402.7 506.2,403.3 514.2,403.8 522.2,404.3 530.1,404.8 538.1,405.2 546.1,405.6 554,405.9 562,406.2 570,406.4 577.9,406.5 585.9,406.6 593.9,406.7 601.9,406.6 609.8,406.5 617.8,406.4 625.8,406.1 633.7,405.8 641.7,405.4 649.7,404.8 657.6,404.2 665.6,403.5 673.6,402.7 681.5,401.8 689.5,400.8 697.5,399.6 705.5,398.3 713.4,396.9 721.4,395.4 729.4,393.7 737.3,391.9 745.3,390 753.3,388 761.2,385.8 769.2,383.5 777.2,381.1 785.2,378.5 793.1,375.9 801.1,373.1 809.1,370.2 817,367.3 825,364.2 833,361.1 840.9,357.9 848.9,354.6 856.9,351.3 864.9,347.9 872.8,344.5 880.8,341 888.8,337.4 896.7,333.9 904.7,330.2 912.7,326.6 920.6,322.9 928.6,319.2 936.6,315.5 944.5,311.8 952.5,308 960.5,304.3 968.5,300.5 976.4,296.7 984.4,292.9 992.4,289.1 1000.3,285.3 1008.3,281.5 1016.3,277.7 1024.2,273.9 1032.2,270.1 1040.2,266.3 1048.2,262.4 1056.1,258.6 1064.1,254.9 1072.1,251.1 1080,247.3 1088,243.5 1088,471 1080,470.9 1072.1,470.7 1064.1,470.6 1056.1,470.5 1048.2,470.4 1040.2,470.3 1032.2,470.3 1024.2,470.2 1016.3,470.2 1008.3,470.2 1000.3,470.2 992.4,470.2 984.4,470.2 976.4,470.3 968.5,470.4 960.5,470.5 952.5,470.6 944.5,470.8 936.6,471 928.6,471.3 920.6,471.5 912.7,471.8 904.7,472.2 896.7,472.6 888.8,473 880.8,473.5 872.8,474.1 864.9,474.7 856.9,475.3 848.9,476.1 840.9,476.9 833,477.8 825,478.8 817,479.8 809.1,481 801.1,482.3 793.1,483.6 785.2,485.1 777.2,486.7 769.2,488.4 761.2,490.2 753.3,492.1 745.3,494.2 737.3,496.4 729.4,498.7 721.4,501.1 713.4,503.7 705.5,506.3 697.5,509.1 689.5,512 681.5,515 673.6,518.1 665.6,521.3 657.6,524.5 649.7,527.9 641.7,531.3 633.7,534.8 625.8,538.4 617.8,542.1 609.8,545.8 601.9,549.5 593.9,553.3 585.9,557.2 577.9,561.1 570,565 562,569 554,573 546.1,577.1 538.1,581.2 530.1,585.3 522.2,589.4 514.2,593.6 506.2,597.7 498.2,602 490.3,606.2 482.3,610.4 474.3,614.7 466.4,619 458.4,623.2" fill="#949494" fill-opacity="0.15"/>
</g>
<g clip-path="url(#ax)" fill="none">
<line x1="506.2" y1="267.1" x2="1103.9" y2="311.1" stroke="#0173B2" stroke-width="5.0" stroke-opacity="1.0" stroke-linecap="square"/>
<line x1="393.5" y1="598.2" x2="1359.6" y2="136.7" stroke="#DE8F05" stroke-width="3.1" stroke-opacity="0.8" stroke-linecap="butt" stroke-dasharray="3.1 5.1"/>
<line x1="407.5" y1="552" x2="1055.8" y2="264.8" stroke="#029E73" stroke-width="3.1" stroke-opacity="0.8" stroke-linecap="butt" stroke-dasharray="3.1 5.1"/>
<line x1="161.7" y1="535" x2="1180.5" y2="331.8" stroke="#D55E00" stroke-width="3.1" stroke-opacity="0.8" stroke-linecap="butt" stroke-dasharray="3.1 5.1"/>
<line x1="442.8" y1="490.4" x2="1047.3" y2="388.3" stroke="#CC78BC" stroke-width="3.1" stroke-opacity="0.8" stroke-linecap="butt" stroke-dasharray="11.5 5"/>
<line x1="376.7" y1="542" x2="1232.1" y2="271.9" stroke="#CA9161" stroke-width="3.1" stroke-opacity="0.8" stroke-linecap="butt" stroke-dasharray="11.5 5"/>
<line x1="352.9" y1="587.9" x2="1213" y2="304" stroke="#FBAFE4" stroke-width="3.1" stroke-opacity="0.8" stroke-linecap="butt" stroke-dasharray="11.5 5"/>
<line x1="458.4" y1="521" x2="1088" y2="354.3" stroke="#949494" stroke-width="3.1" stroke-opacity="0.8" stroke-linecap="butt" stroke-dasharray="11.5 5"/>
</g>
<g stroke="#262626" stroke-width="1.75" fill="none" stroke-linecap="butt">
<path d="M101.9,8 V873.6 H1420"/>
<line x1="124.5" y1="873.6" x2="124.5" y2="880.6"/>
<line x1="295" y1="873.6" x2="295" y2="880.6"/>
<line x1="465.4" y1="873.6" x2="465.4" y2="880.6"/>
<line x1="635.9" y1="873.6" x2="635.9" y2="880.6"/>
<line x1="806.3" y1="873.6" x2="806.3" y2="880.6"/>
<line x1="976.8" y1="873.6" x2="976.8" y2="880.6"/>
<line x1="1147.2" y1="873.6" x2="1147.2" y2="880.6"/>
<line x1="1317.7" y1="873.6" x2="1317.7" y2="880.6"/>
<line x1="94.9" y1="751.4" x2="101.9" y2="751.4"/>
<line x1="94.9" y1="586.3" x2="101.9" y2="586.3"/>
<line x1="94.9" y1="421.1" x2="101.9" y2="421.1"/>
<line x1="94.9" y1="256" x2="101.9" y2="256"/>
<line x1="94.9" y1="90.9" x2="101.9" y2="90.9"/>
</g>
<g font-family="Liberation Sans, Arial, sans-serif" font-size="19.6" fill="#000">
<text x="124.5" y="901.5" text-anchor="middle">20</text>
<text x="295" y="901.5" text-anchor="middle">25</text>
<text x="465.4" y="901.5" text-anchor="middle">30</text>
<text x="635.9" y="901.5" text-anchor="middle">35</text>
<text x="806.3" y="901.5" text-anchor="middle">40</text>
<text x="976.8" y="901.5" text-anchor="middle">45</text>
<text x="1147.2" y="901.5" text-anchor="middle">50</text>
<text x="1317.7" y="901.5" text-anchor="middle">55</text>
<text x="87.6" y="758.4" text-anchor="end">10000</text>
<text x="87.6" y="593.3" text-anchor="end">11000</text>
<text x="87.6" y="428.1" text-anchor="end">12000</text>
<text x="87.6" y="263" text-anchor="end">13000</text>
<text x="87.6" y="97.9" text-anchor="end">14000</text>
</g>
<text x="761" y="932.9" textLength="320" lengthAdjust="spacing" text-anchor="middle" font-family="Liberation Serif, Times New Roman, serif" font-weight="bold" font-size="25">Countermovement Jump (cm)</text>
<text transform="translate(25.3,441.2) rotate(-90)" textLength="281" lengthAdjust="spacing" text-anchor="middle" font-family="Liberation Serif, Times New Roman, serif" font-weight="bold" font-size="25">Total Rowing Distance (m)</text>
<rect x="157.4" y="38.6" width="513.4" height="83" rx="8" ry="8" fill="#f0f8ff" fill-opacity="0.8" stroke="#222" stroke-width="1.7"/>
<g font-family="Liberation Serif, Times New Roman, serif" font-size="24.5" fill="#000">
<text x="169.9" y="63.1" textLength="476.4" lengthAdjust="spacing">The 0.5 g/kg/h group demonstrated significantly</text>
<text x="167.6" y="87.9" textLength="399.1" lengthAdjust="spacing">greater rowing distance compared to the</text>
<text x="170.9" y="113.4" textLength="454.7" lengthAdjust="spacing">0.9, 1.0, 1.1, and 1.2 g/kg/h groups (p &lt; 0.05).</text>
</g>
<rect x="1439.9" y="19.9" width="262.85" height="252.9" rx="5.5" ry="5.5" fill="#fff" fill-opacity="0.8" stroke="#d0d0d0" stroke-width="1.6"/>
<text x="1574.1" y="44.8" textLength="254.4" lengthAdjust="spacing" text-anchor="middle" font-family="Liberation Serif, Times New Roman, serif" font-weight="bold" font-size="22.5">CHO Intake Rate (g/kg/h)</text>
<g font-family="Liberation Serif, Times New Roman, serif" font-size="24" fill="#000">
<circle cx="1547.5" cy="66.2" r="8.5" fill="#0173B2" stroke="#fff" stroke-width="0.8"/>
<text x="1584.5" y="71.8">0.5</text>
<polygon points="1538.8,102.2 1556.2,102.2 1556.2,84.8 1538.8,84.8" fill="#DE8F05" stroke="#fff" stroke-width="0.8" stroke-linejoin="miter"/>
<text x="1584.5" y="99.1">0.6</text>
<polygon points="1547.5,133 1559.9,120.6 1547.5,108.2 1535.1,120.6" fill="#029E73" stroke="#fff" stroke-width="0.8" stroke-linejoin="miter"/>
<text x="1584.5" y="126.2">0.7</text>
<polygon points="1547.5,139.8 1539,156.8 1556,156.8" fill="#D55E00" stroke="#fff" stroke-width="0.8" stroke-linejoin="miter"/>
<text x="1584.5" y="153.9">0.8</text>
<polygon points="1547.5,183.8 1556,166.8 1539,166.8" fill="#CC78BC" stroke="#fff" stroke-width="0.8" stroke-linejoin="miter"/>
<text x="1584.5" y="180.9">0.9</text>
<polygon points="1547.5,193.7 1539.2,199.7 1542.4,209.4 1552.6,209.4 1555.8,199.7" fill="#CA9161" stroke="#fff" stroke-width="0.8" stroke-linejoin="miter"/>
<text x="1584.5" y="208">1.0</text>
<polygon points="1543.2,238.1 1547.5,233.8 1551.8,238.1 1556,233.8 1551.8,229.6 1556,225.3 1551.8,221.1 1547.5,225.3 1543.2,221.1 1539,225.3 1543.2,229.6 1539,233.8" fill="#FBAFE4" stroke="#fff" stroke-width="0.8" stroke-linejoin="miter"/>
<text x="1584.5" y="235.2">1.1</text>
<polygon points="1547.5,246.6 1545,253.4 1537.8,253.7 1543.4,258.2 1541.5,265.2 1547.5,261.2 1553.5,265.2 1551.6,258.2 1557.2,253.7 1550,253.4" fill="#949494" stroke="#fff" stroke-width="0.8" stroke-linejoin="miter"/>
<text x="1584.5" y="262.5">1.2</text>
</g>
</svg>
</body></html>
